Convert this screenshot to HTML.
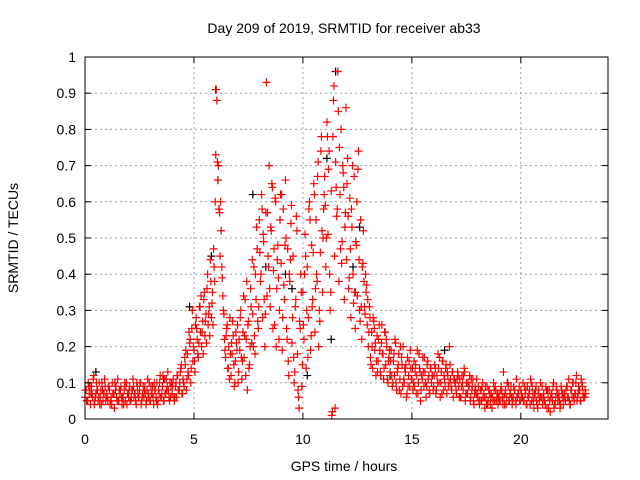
<!DOCTYPE html>
<html><head><meta charset="utf-8"><style>
body{margin:0;background:#fff;}
svg{display:block;font-family:"Liberation Sans",sans-serif;}
</style></head><body>
<svg id="chart" width="640" height="480">
<text x="344" y="33" text-anchor="middle" font-size="14">Day 209 of 2019, SRMTID for receiver ab33</text>
<text x="344" y="471" text-anchor="middle" font-size="14">GPS time / hours</text>
<text transform="translate(18,238) rotate(-90)" text-anchor="middle" font-size="14">SRMTID / TECUs</text>
<g id="grid"></g><g id="marks"></g><g id="axes"></g>
</svg>
<script>
const xTicks=[0,5,10,15,20];
const yTicks=[0,0.1,0.2,0.3,0.4,0.5,0.6,0.7,0.8,0.9,1];
const redA=[0.06,0.08,0.05,0.10,0.07,0.04,0.09,0.06,0.12,0.05,0.07,0.08,0.05,0.10,0.06,0.04,0.08,0.07,0.11,0.05,
0.07,0.05,0.09,0.04,0.06,0.10,0.07,0.03,0.08,0.06,0.11,0.05,0.07,0.09,0.04,0.06,0.08,0.05,0.10,0.07,
0.06,0.09,0.05,0.08,0.11,0.06,0.07,0.04,0.09,0.06,0.08,0.10,0.05,0.07,0.06,0.09,0.04,0.08,0.06,0.10,
0.05,0.07,0.09,0.04,0.08,0.06,0.10,0.05,0.07,0.12,0.06,0.09,0.05,0.11,0.07,0.08,0.13,0.06,0.10,0.09,
0.07,0.11,0.05,0.09,0.06,0.12,0.08,0.10,0.14,0.07,0.11,0.09,0.15,0.08,0.18,0.12,0.21,0.10,0.25,0.16,
0.19,0.13,0.28,0.22,0.17,0.31,0.24,0.20,0.27,0.33,0.23,0.29,0.36,0.26,0.31,0.44,0.28,0.35,0.47,0.38,
0.73,0.88,0.66,0.58,0.45,0.52,0.39,0.30,0.22,0.17,0.25,0.14,0.20,0.28,0.12,0.18,0.23,0.09,0.16,0.21,
0.26,0.13,0.19,0.30,0.11,0.24,0.17,0.33,0.22,0.08,0.27,0.15,0.36,0.21,0.29,0.42,0.18,0.33,0.47,0.25,
0.55,0.38,0.62,0.28,0.49,0.20,0.57,0.34,0.45,0.70,0.31,0.52,0.64,0.41,0.26,0.60,0.36,0.48,0.22,0.55,
0.43,0.19,0.58,0.33,0.66,0.25,0.47,0.12,0.38,0.54,0.21,0.45,0.10,0.31,0.56,0.18,0.06,0.27,0.40,0.09,
0.35,0.22,0.51,0.14,0.42,0.28,0.60,0.19,0.48,0.33,0.65,0.24,0.55,0.38,0.71,0.30,0.46,0.78,0.35,0.58,
0.67,0.42,0.82,0.51,0.74,0.30,0.63,0.02,0.88,0.45,0.71,0.56,0.96,0.38,0.62,0.80,0.49,0.68,0.33,0.57,
0.44,0.72,0.36,0.61,0.28,0.53,0.40,0.67,0.25,0.48,0.34,0.74,0.30,0.55,0.22,0.43,0.38,0.29,0.35,0.26,
0.20,0.31,0.17,0.24,0.14,0.27,0.19,0.12,0.23,0.16,0.26,0.13,0.21,0.18,0.11,0.24,0.15,0.20,0.10,0.17,
0.13,0.19,0.09,0.16,0.12,0.21,0.08,0.14,0.18,0.11,0.07,0.15,0.20,0.10,0.13,0.06,0.17,0.12,0.09,0.14,
0.11,0.08,0.16,0.13,0.07,0.19,0.10,0.14,0.05,0.12,0.17,0.09,0.13,0.06,0.15,0.11,0.08,0.14,0.10,0.12,
0.09,0.15,0.07,0.12,0.18,0.10,0.06,0.13,0.16,0.08,0.11,0.14,0.07,0.12,0.10,0.15,0.09,0.13,0.06,0.11,
0.10,0.07,0.13,0.09,0.11,0.06,0.12,0.08,0.14,0.05,0.10,0.07,0.09,0.12,0.06,0.08,0.11,0.04,0.09,0.07,
0.06,0.09,0.04,0.08,0.05,0.10,0.07,0.03,0.06,0.09,0.05,0.08,0.04,0.07,0.06,0.10,0.05,0.08,0.06,0.04,
0.07,0.05,0.09,0.06,0.13,0.04,0.08,0.06,0.10,0.05,0.07,0.09,0.04,0.06,0.08,0.05,0.11,0.06,0.07,0.05,
0.08,0.06,0.10,0.05,0.07,0.04,0.09,0.06,0.08,0.11,0.05,0.07,0.03,0.06,0.09,0.04,0.07,0.05,0.10,0.06,
0.04,0.07,0.05,0.09,0.03,0.06,0.08,0.02,0.07,0.05,0.10,0.04,0.06,0.08,0.05,0.07,0.03,0.09,0.06,0.04,
0.07,0.05,0.09,0.06,0.11,0.04,0.08,0.06,0.10,0.05,0.07,0.12,0.06,0.09,0.08,0.05,0.10,0.07,0.06,0.08];
const redAStart=0, redAStep=0.05;
const redB=[0.08,0.05,0.09,0.07,0.04,0.10,0.06,0.08,0.05,0.09,
0.06,0.08,0.04,0.07,0.09,0.05,0.08,0.06,0.10,0.04,
0.08,0.06,0.09,0.05,0.07,0.10,0.06,0.08,0.05,0.07,
0.09,0.06,0.08,0.04,0.10,0.07,0.05,0.11,0.08,0.06,
0.09,0.06,0.12,0.08,0.15,0.10,0.19,0.13,0.22,0.30,
0.16,0.25,0.21,0.34,0.18,0.27,0.40,0.23,0.32,0.42,
0.91,0.70,0.60,0.34,0.19,0.26,0.11,0.21,0.15,0.24,
0.10,0.28,0.16,0.23,0.38,0.14,0.31,0.20,0.40,0.27,
0.46,0.58,0.33,0.93,0.42,0.53,0.25,0.61,0.44,0.30,
0.62,0.37,0.50,0.16,0.44,0.28,0.13,0.52,0.03,0.35,
0.26,0.45,0.17,0.55,0.31,0.62,0.40,0.20,0.74,0.50,
0.59,0.78,0.40,0.01,0.92,0.64,0.85,0.47,0.70,0.53,
0.65,0.39,0.58,0.32,0.49,0.69,0.27,0.42,0.31,0.37,
0.24,0.15,0.28,0.21,0.13,0.19,0.26,0.14,0.22,0.16,
0.16,0.10,0.22,0.13,0.08,0.17,0.11,0.15,0.09,0.19,
0.14,0.09,0.12,0.18,0.08,0.13,0.10,0.16,0.07,0.12,
0.12,0.08,0.14,0.10,0.16,0.09,0.13,0.20,0.08,0.11,
0.08,0.12,0.06,0.10,0.13,0.07,0.09,0.11,0.05,0.08,
0.07,0.05,0.09,0.06,0.04,0.08,0.06,0.05,0.09,0.07,
0.05,0.08,0.06,0.04,0.09,0.07,0.05,0.08,0.06,0.09,
0.07,0.05,0.08,0.06,0.04,0.09,0.07,0.05,0.08,0.06,
0.06,0.04,0.08,0.05,0.07,0.03,0.09,0.06,0.04,0.07,
0.06,0.09,0.05,0.08,0.06,0.10,0.07,0.05,0.09,0.06];
const redBStart=0.025, redBStep=0.1;
const redC=[0.05,0.09,0.07,0.11,0.06,0.08,0.04,0.10,0.07,0.06,
0.09,0.05,0.07,0.10,0.05,0.08,0.06,0.04,0.09,0.07,
0.05,0.08,0.07,0.10,0.06,0.04,0.09,0.07,0.11,0.05,
0.07,0.10,0.05,0.08,0.06,0.12,0.07,0.09,0.05,0.10,
0.06,0.10,0.08,0.13,0.07,0.17,0.11,0.24,0.14,0.20,
0.26,0.18,0.31,0.24,0.35,0.21,0.29,0.38,0.26,0.60,
0.71,0.57,0.42,0.29,0.23,0.14,0.18,0.27,0.10,0.19,
0.22,0.17,0.34,0.12,0.26,0.20,0.44,0.23,0.53,0.31,
0.40,0.51,0.29,0.57,0.36,0.65,0.47,0.20,0.39,0.62,
0.28,0.48,0.22,0.40,0.59,0.17,0.33,0.08,0.25,0.15,
0.40,0.30,0.58,0.23,0.46,0.36,0.67,0.27,0.52,0.62,
0.50,0.69,0.35,0.78,0.03,0.58,0.75,0.43,0.64,0.86,
0.56,0.47,0.70,0.35,0.60,0.44,0.31,0.52,0.40,0.33,
0.28,0.20,0.25,0.16,0.22,0.12,0.18,0.24,0.11,0.19,
0.12,0.18,0.10,0.15,0.20,0.09,0.14,0.07,0.16,0.11,
0.10,0.15,0.07,0.13,0.11,0.17,0.09,0.12,0.14,0.08,
0.14,0.10,0.17,0.07,0.12,0.15,0.09,0.11,0.13,0.10,
0.11,0.06,0.09,0.12,0.07,0.10,0.05,0.09,0.07,0.11,
0.05,0.08,0.06,0.09,0.04,0.07,0.03,0.08,0.05,0.06,
0.08,0.04,0.07,0.10,0.05,0.06,0.09,0.04,0.07,0.05,
0.06,0.09,0.04,0.07,0.10,0.05,0.08,0.03,0.06,0.09,
0.05,0.08,0.03,0.06,0.09,0.04,0.07,0.05,0.08,0.06,
0.08,0.06,0.04,0.10,0.07,0.05,0.08,0.11,0.06,0.07];
const redCStart=0.075, redCStep=0.1;
const blackT=[0.5,4.8,5.8,6.0,6.1,6.15,7.7,8.3,9.2,9.5,11.1,11.5,11.3,12.3,12.4,12.6,16.5,3.6,10.2,14.0];
const blackV=[0.13,0.31,0.45,0.91,0.66,0.58,0.62,0.42,0.40,0.36,0.72,0.96,0.22,0.42,0.35,0.53,0.19,0.11,0.12,0.12];

const L=85,R=608,T=57,B=419,XMAX=24;
const xs=v=>L+(R-L)*v/XMAX, ys=v=>B-(B-T)*v;
const NS="http://www.w3.org/2000/svg";
function mk(tag,attrs,parent){const e=document.createElementNS(NS,tag);for(const k in attrs)e.setAttribute(k,attrs[k]);parent.appendChild(e);return e;}
const grid=document.getElementById('grid'),marks=document.getElementById('marks'),axes=document.getElementById('axes');
yTicks.forEach(v=>{
 if(v>0&&v<1){const g=mk('line',{x1:L,x2:R,y1:ys(v),y2:ys(v),stroke:'#a0a0a0','stroke-dasharray':'2,3','stroke-width':1},grid);
 
 }
 const t=mk('text',{x:L-9,y:ys(v)+5,'text-anchor':'end','font-size':14},axes);t.textContent=String(v);
 
 
 mk('line',{x1:L,x2:L+6,y1:ys(v),y2:ys(v),stroke:'#000'},axes);
 mk('line',{x1:R,x2:R-6,y1:ys(v),y2:ys(v),stroke:'#000'},axes);
});
xTicks.forEach(v=>{
 if(v>0){const g=mk('line',{x1:xs(v),x2:xs(v),y1:T,y2:B,stroke:'#a0a0a0','stroke-dasharray':'2,3','stroke-width':1},grid);
 
 }
 const t=mk('text',{x:xs(v),y:B+25,'text-anchor':'middle','font-size':14},axes);t.textContent=String(v);
 
 
 mk('line',{x1:xs(v),x2:xs(v),y1:B,y2:B-6,stroke:'#000'},axes);
 mk('line',{x1:xs(v),x2:xs(v),y1:T,y2:T+6,stroke:'#000'},axes);
});
const fr=mk('rect',{x:L,y:T,width:R-L,height:B-T,fill:'none',stroke:'#000'},axes);


function plus(t,v,c,name){const x=xs(t),y=ys(v);
 const p=mk('path',{d:`M${x-4},${y}H${x+4}M${x},${y-4}V${y+4}`,stroke:c,'stroke-width':1.2,fill:'none'},marks);
 
 }
blackT.forEach((t,i)=>plus(t,blackV[i],'#000','black-point'));
redA.forEach((v,i)=>plus(redAStart+i*redAStep,v,'#f00','red-point'));
redB.forEach((v,i)=>plus(redBStart+i*redBStep,v,'#f00','red-point'));
redC.forEach((v,i)=>plus(redCStart+i*redCStep,v,'#f00','red-point'));
</script>
</body></html>
